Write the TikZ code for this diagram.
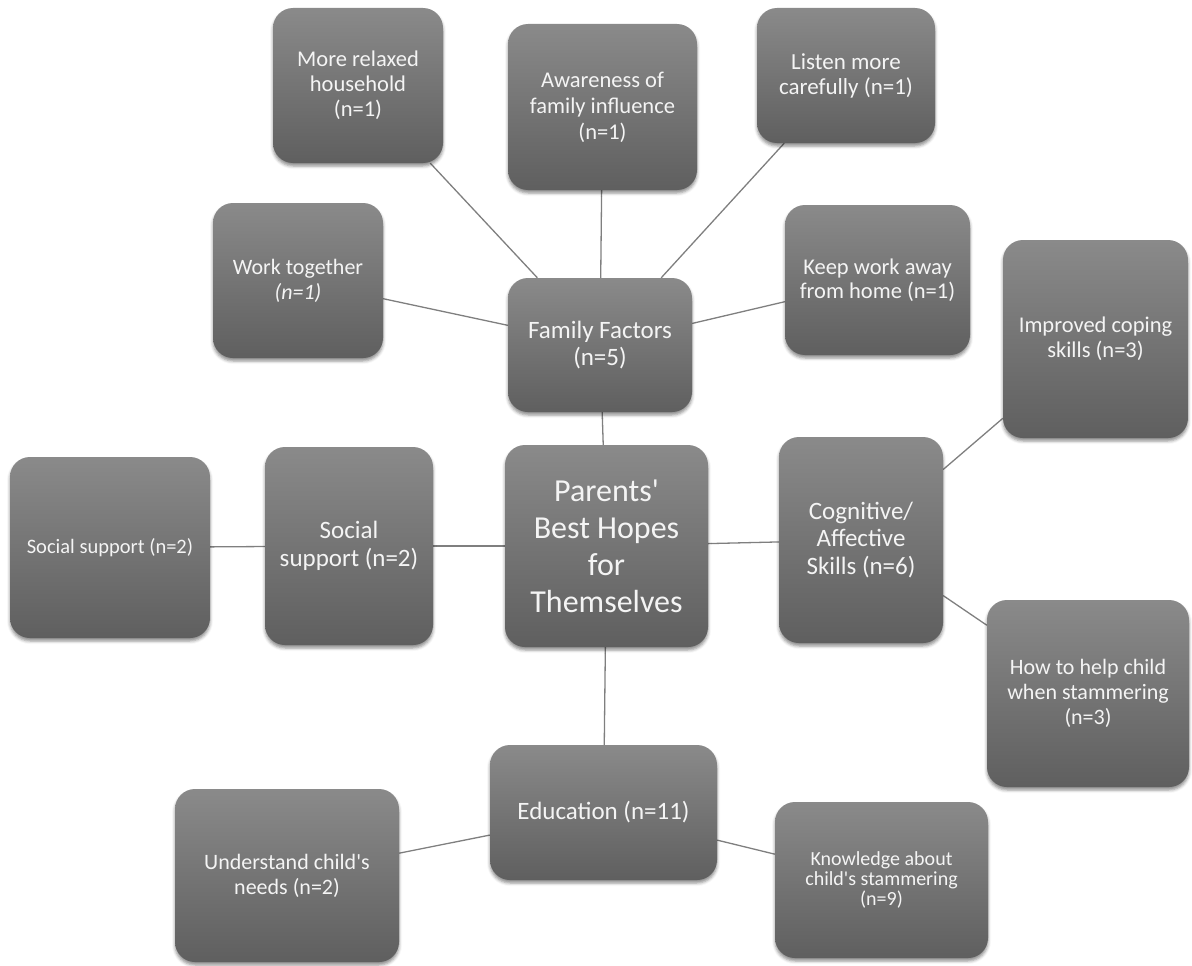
\documentclass[tikz,border=0pt]{standalone}
\usepackage{fontspec}
\setmainfont{Carlito}
\usetikzlibrary{positioning,shadows.blur,backgrounds}

\definecolor{boxtop}{HTML}{8A8A8A}
\definecolor{boxbot}{HTML}{5F5F5F}
\definecolor{linkgray}{HTML}{7F7F7F}
\definecolor{boxtext}{HTML}{F4F4F4}

\tikzset{
  box/.style={rectangle, rounded corners=20pt, top color=boxtop, bottom color=boxbot,
    text=boxtext, align=center, inner sep=2pt,
    blur shadow={shadow xshift=0pt, shadow yshift=-3pt, shadow blur radius=3pt, shadow opacity=45}},
  link/.style={draw=linkgray, line width=1.3pt}
}

\begin{document}
\begin{tikzpicture}[x=1pt, y=-1pt]
    \useasboundingbox (0,0) rectangle (1192,966);
    % centre and the first ring
    \node(hopes) [box, minimum width=203pt, minimum height=202pt, font=\fontsize{32}{37}\selectfont] at (606.5,546) {Parents\textquotesingle\\Best Hopes\\for\\Themselves};
    \node(family) [box, minimum width=184pt, minimum height=134pt, font=\fontsize{25}{27}\selectfont] at (600,345) {Family Factors\\(n=5)};
    \node(socm) [box, minimum width=168pt, minimum height=198pt, font=\fontsize{25}{28}\selectfont] at (349,546) {Social\\support (n=2)};
    \node(cog) [box, minimum width=164pt, minimum height=206pt, font=\fontsize{25}{27.5}\selectfont] at (861,540) {Cognitive/\\Affective\\Skills (n=6)};
    \node(edu) [box, minimum width=227pt, minimum height=135pt, font=\fontsize{25}{28}\selectfont] at (603.5,812.5) {Education (n=11)};
    % family factors
    \node(relax) [box, minimum width=170pt, minimum height=155pt, font=\fontsize{22.5}{25}\selectfont] at (358,85.5) {More relaxed\\household\\(n=1)};
    \node(aware) [box, minimum width=189pt, minimum height=166pt, font=\fontsize{22.5}{26}\selectfont] at (602.5,107) {Awareness of\\family influence\\(n=1)};
    \node(listen) [box, minimum width=178pt, minimum height=135pt, font=\fontsize{23}{25}\selectfont] at (846,75.5) {Listen more\\carefully (n=1)};
    \node(work) [box, minimum width=170pt, minimum height=155pt, font=\fontsize{22}{25}\selectfont] at (298,280.5) {Work together\\\textit{(n=1)}};
    \node(keep) [box, minimum width=185pt, minimum height=150pt, font=\fontsize{22.5}{23.5}\selectfont] at (877.5,280) {Keep work away\\from home (n=1)};
    % skills
    \node(coping) [box, minimum width=185pt, minimum height=198pt, font=\fontsize{22.5}{25}\selectfont] at (1095.5,339) {Improved coping\\skills (n=3)};
    \node(helpc) [box, minimum width=202pt, minimum height=187pt, font=\fontsize{22}{25}\selectfont] at (1088,693.5) {How to help child\\when stammering\\(n=3)};
    % support
    \node(socl) [box, minimum width=200pt, minimum height=181pt, font=\fontsize{20.5}{24}\selectfont] at (110,547.5) {Social support (n=2)};
    % education
    \node(underst) [box, minimum width=224pt, minimum height=173pt, font=\fontsize{22}{25}\selectfont] at (287,875.5) {Understand child\textquotesingle s\\needs (n=2)};
    \node(knowl) [box, minimum width=213pt, minimum height=156pt, font=\fontsize{20}{20}\selectfont] at (881.5,880) {Knowledge about\\child\textquotesingle s stammering\\(n=9)};

    \begin{scope}[on background layer]
    \draw[link] (hopes) -- (family);
    \draw[link] (family) -- (work);
    \draw[link] (family) -- (relax);
    \draw[link] (family) -- (aware);
    \draw[link] (family) -- (listen);
    \draw[link] (family) -- (keep);
    \draw[link] (hopes) -- (socm);
    \draw[link] (socm) -- (socl);
    \draw[link] (hopes) -- (cog);
    \draw[link] (cog) -- (coping);
    \draw[link] (cog) -- (helpc);
    \draw[link] (hopes) -- (edu);
    \draw[link] (edu) -- (underst);
    \draw[link] (edu) -- (knowl);
    \end{scope}
\end{tikzpicture}
\end{document}
